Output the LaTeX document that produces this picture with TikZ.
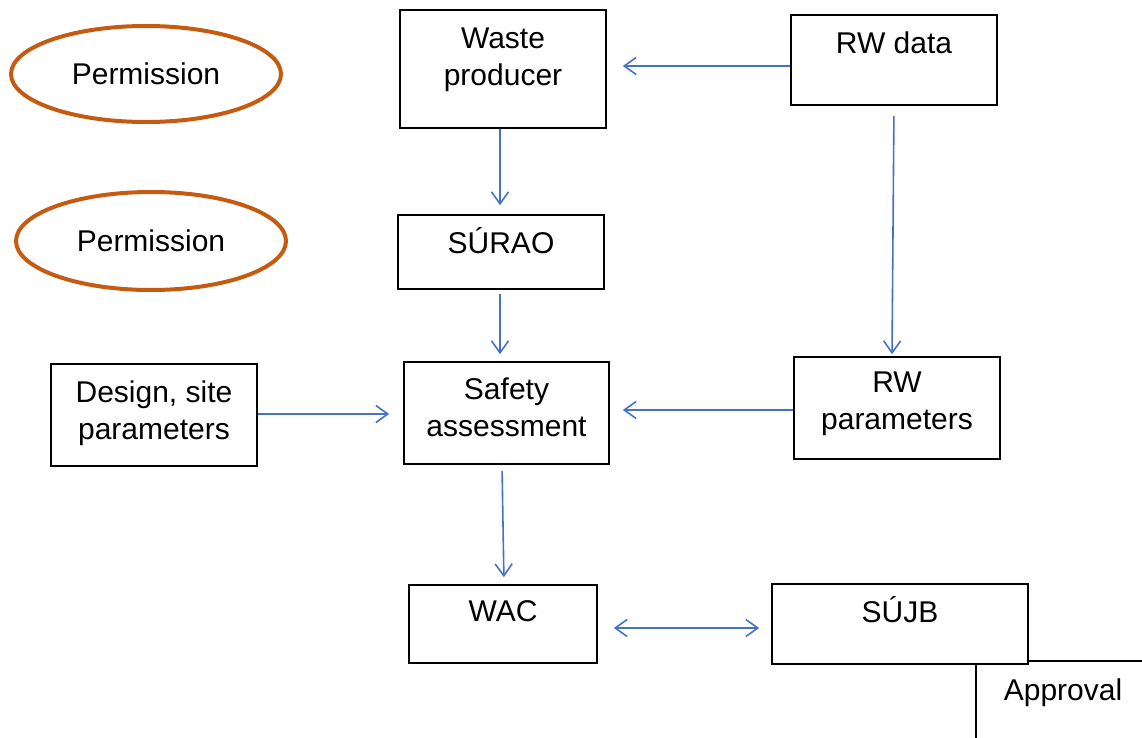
\documentclass[tikz,border=0pt]{standalone}
\usepackage{fontspec}
\setmainfont{Liberation Sans}
\usepackage{xcolor}
\usepackage{tikz}
\usetikzlibrary{arrows.meta,shapes}
\definecolor{linkblue}{HTML}{4472C4}
\definecolor{permorange}{HTML}{C55A11}

\begin{document}
\begin{tikzpicture}[
    font=\fontsize{15bp}{18.5bp}\selectfont,
    box/.style={draw,line width=0.8bp,align=center,inner sep=0pt,text height=11bp},
    perm/.style={draw=permorange,ellipse,line width=2bp,inner sep=0pt},
    link/.style={draw=linkblue,line width=0.8bp,-{Straight Barb[length=6bp,width=8.5bp]}}]
    \useasboundingbox (0bp,0bp) rectangle (571bp,-369bp);
    \node (P1) at (73bp,-37bp)[perm,minimum width=135bp,minimum height=48bp] {Permission};
    \node (P2) at (75.5bp,-120.5bp)[perm,minimum width=135bp,minimum height=49bp] {Permission};
    \node (WP) at (251.5bp,-34.5bp)[box,minimum width=103bp,minimum height=59bp,text height=16.7bp,text depth=0bp] {Waste\\producer};
    \node (RWD) at (447bp,-30bp)[box,minimum width=103bp,minimum height=45bp,text depth=17.3bp] {RW data};
    \node (SU) at (250.5bp,-126bp)[box,minimum width=103bp,minimum height=37bp,text depth=9.3bp] {SÚRAO};
    \node (DSP) at (77bp,-207.5bp)[box,minimum width=103bp,minimum height=51bp,text height=24.7bp,text depth=0bp] {Design, site\\parameters};
    \node (SA) at (253.25bp,-206.5bp)[box,minimum width=102.5bp,minimum height=51bp,text height=23.7bp,text depth=0bp] {Safety\\assessment};
    \node (RWP) at (448.5bp,-204bp)[box,minimum width=103bp,minimum height=51bp,text height=21.7bp,text depth=0bp] {RW\\parameters};
    \node (WAC) at (251.5bp,-312bp)[box,minimum width=94bp,minimum height=39bp,text depth=13.3bp] {WAC};
    \node (SJ) at (450bp,-312bp)[box,minimum width=128bp,minimum height=40bp,text depth=12.3bp] {SÚJB};
    \node (AP) at (531.5bp,-346.5bp) {Approval};
    \draw [link,shorten >=8bp] (RWD.west |- 0,-33bp) to (WP.east |- 0,-33bp);
    \draw [link,shorten >=4.5bp] (250bp,0 |- WP.south) to (250bp,0 |- SU.north);
    \draw [link,shorten <=2bp,shorten >=3.5bp] (250bp,0 |- SU.south) to (250bp,0 |- SA.north);
    \draw [link,shorten <=5bp,shorten >=1bp] (RWD.south) to (446bp,0 |- RWP.north);
    \draw [link,shorten >=7bp] (DSP.east |- 0,-207bp) to (SA.west |- 0,-207bp);
    \draw [link,shorten >=6.5bp] (RWP.west |- 0,-205bp) to (SA.east |- 0,-205bp);
    \draw [link,shorten <=3bp,shorten >=3.5bp] (251bp,0 |- SA.south) to (252bp,0 |- WAC.north);
    \draw [link,{Straight Barb[length=6bp,width=8.5bp]}-{Straight Barb[length=6bp,width=8.5bp]},shorten <=8bp,shorten >=6bp] (WAC.east |- 0,-314bp) to (SJ.west |- 0,-314bp);
    \draw [line width=0.8bp] (SJ.east |- 0,-330.5bp) to (571bp,-330.5bp);
    \draw [line width=0.8bp] (488bp,0 |- SJ.south) to (488bp,-369bp);
\end{tikzpicture}
\end{document}
